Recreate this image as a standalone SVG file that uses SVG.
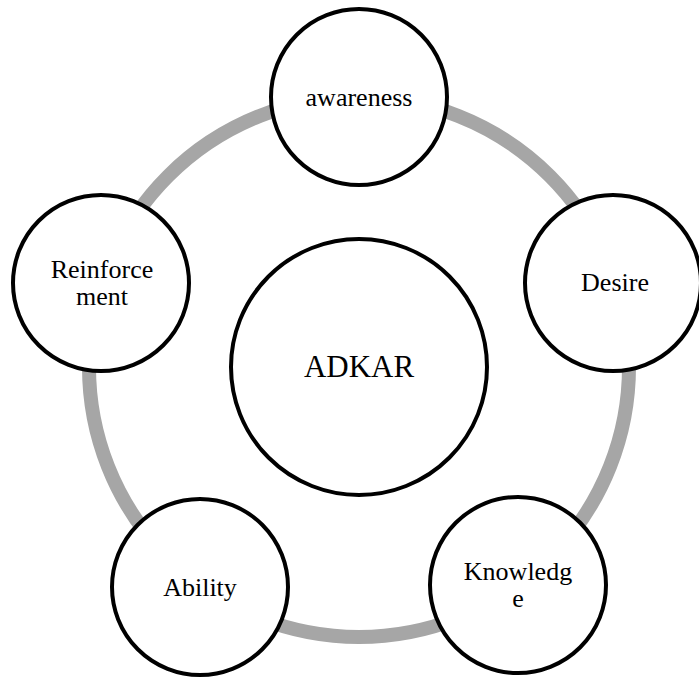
<svg xmlns="http://www.w3.org/2000/svg" width="699" height="679" viewBox="0 0 699 679">
<style>
.node{fill:#fff;stroke:#000;stroke-width:4}
.t{font-family:"Liberation Serif","Times New Roman",serif;font-size:26px;fill:#000;text-anchor:middle}
.ring{fill:none;stroke:#a6a6a6;stroke-width:14}
</style>
<rect width="699" height="679" fill="#fff"/>
<g id="connectors">
<circle class="ring" cx="359" cy="367" r="270"/>
</g>
<g id="adkar">
<circle class="node" cx="359" cy="367" r="128"/>
<text class="t" x="359" y="377" style="font-size:31px">ADKAR</text>
</g>
<g id="awareness">
<circle class="node" cx="359" cy="97" r="88"/>
<text class="t" x="359" y="106">awareness</text>
</g>
<g id="desire">
<circle class="node" cx="613" cy="283" r="88"/>
<text class="t" x="615" y="291">Desire</text>
</g>
<g id="knowledge">
<circle class="node" cx="518" cy="585" r="88"/>
<text class="t" x="518" y="580">Knowledg</text>
<text class="t" x="518" y="607">e</text>
</g>
<g id="ability">
<circle class="node" cx="200" cy="587" r="88"/>
<text class="t" x="200" y="596">Ability</text>
</g>
<g id="reinforcement">
<circle class="node" cx="101" cy="283" r="88"/>
<text class="t" x="102" y="278">Reinforce</text>
<text class="t" x="102" y="305">ment</text>
</g>
</svg>
